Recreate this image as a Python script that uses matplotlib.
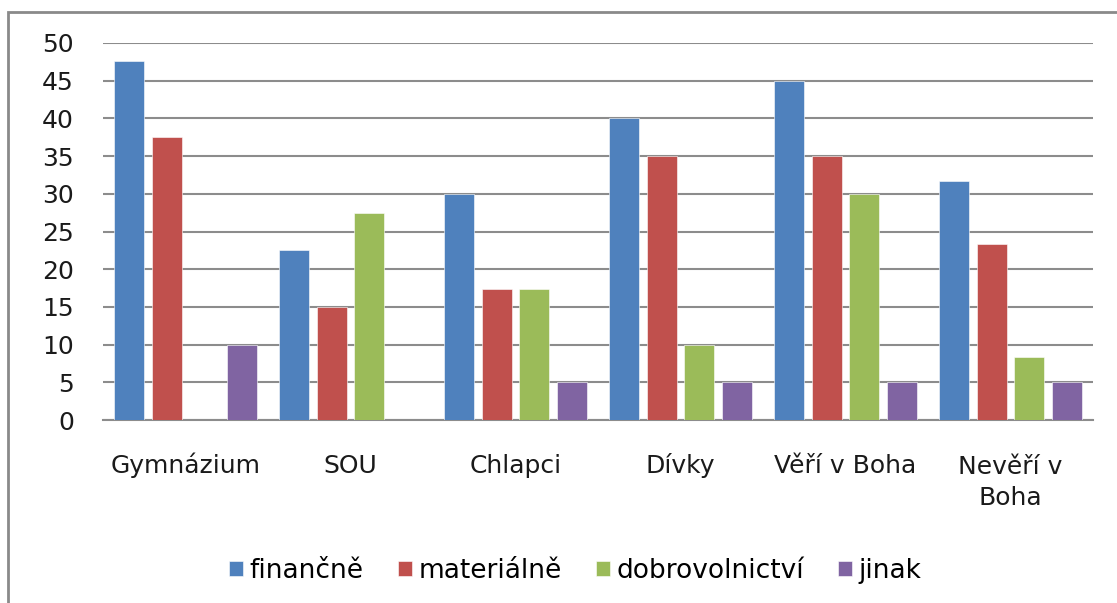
import numpy as np
import matplotlib.pyplot as plt
from matplotlib.patches import Rectangle
from matplotlib.transforms import ScaledTranslation

categories = ["Gymnázium", "SOU", "Chlapci", "Dívky", "Věří v Boha", "Nevěří v\nBoha"]
series_names = ["finančně", "materiálně", "dobrovolnictví", "jinak"]
financne = [47.6, 22.5, 30.0, 40.0, 45.0, 31.7]
materialne = [37.5, 15.0, 17.4, 35.0, 35.0, 23.3]
dobrovolnictvi = [0.0, 27.5, 17.4, 10.0, 30.0, 8.3]
jinak = [10.0, 0.0, 5.0, 5.0, 5.0, 5.0]
colors = ["#4F81BD", "#C0504D", "#9BBB59", "#8064A2"]

plt.rcParams['font.family'] = ['DejaVu Sans']
fs = 18
lsp = 1.38
line_step = 32  # px between the two lines of a wrapped category label

fig = plt.figure(figsize=(11.17, 6.03), dpi=100)
ax = fig.add_axes([103/1117, 1 - 420/603, 990/1117, 377/603])

# outer chart border (right/bottom edges fall outside the image)
fig.patches.append(Rectangle((8/1117, -0.05), 1.1, 1 - 12/603 + 0.05,
                             transform=fig.transFigure, fill=False,
                             edgecolor="#8a8a8a", linewidth=2, zorder=0))

x = np.arange(len(categories))
step = 0.228
width = 0.182
for i, (vals, name) in enumerate(zip([financne, materialne, dobrovolnictvi, jinak], series_names)):
    ax.bar(x + (i - 1.5) * step, vals, width, color=colors[i], label=name,
           edgecolor="white", linewidth=0.4, zorder=3)

ax.set_xlim(-0.5, len(categories) - 0.5)
ax.set_ylim(0, 50)
ax.set_yticks(range(0, 51, 5))
ax.yaxis.grid(True, color="#8c8c8c", linewidth=1.5, zorder=0)
ax.set_axisbelow(True)
for s in ["left", "right", "top"]:
    ax.spines[s].set_visible(False)
ax.spines["bottom"].set_color("#8c8c8c")
ax.spines["bottom"].set_linewidth(1.5)
ax.tick_params(axis="both", length=0, labelsize=fs, colors="#1a1a1a")
ax.tick_params(axis="y", pad=21)
ax.tick_params(axis="x", pad=38)
ax.set_xticks(x)
ax.set_xticklabels(categories, linespacing=lsp, va="baseline")

# baseline alignment uses the last line; push two-line labels down so the first lines line up
for lab in ax.get_xticklabels():
    n = lab.get_text().count("\n")
    if n:
        lab.set_transform(lab.get_transform() +
                          ScaledTranslation(0, -n * line_step / 100, fig.dpi_scale_trans))

fig.legend(loc="center", bbox_to_anchor=(0.515, 1 - 571/603), ncol=4, frameon=False,
           fontsize=19, handlelength=0.53, handleheight=0.53, handletextpad=0.25,
           columnspacing=1.3)

fig.savefig("out.png", dpi=100)
